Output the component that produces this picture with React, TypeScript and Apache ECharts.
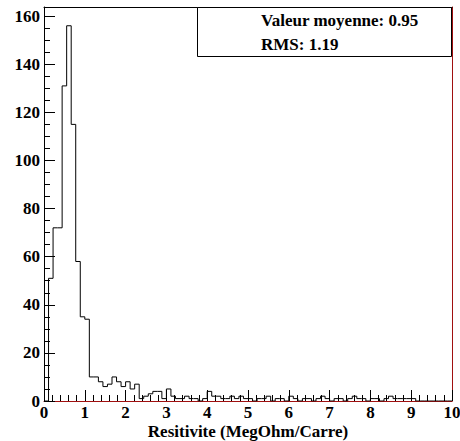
import React, { useEffect, useRef } from "react";
import * as echarts from "echarts";

const xTickLabels = ["0", "1", "2", "3", "4", "5", "6", "7", "8", "9", "10"];
const yTickLabels = ["0", "20", "40", "60", "80", "100", "120", "140", "160"];
const binCounts = [
  0, 51, 72, 72, 131, 156, 115, 58, 35, 34,
  10, 10, 8, 6, 7, 10, 8, 6, 8, 5,
  7, 1, 2, 3, 4, 4, 1, 5, 2, 1,
  1, 2, 1, 1, 0, 1, 4, 2, 2, 1,
  1, 2, 1, 2, 1, 1, 0, 1, 1, 2,
  0, 1, 1, 0, 2, 1, 0, 1, 1, 0,
  1, 2, 1, 0, 1, 1, 0, 1, 2, 1,
  1, 0, 1, 1, 0, 1, 2, 1, 1, 1,
  1, 1, 0, 0, 0, 0, 0, 0, 0, 0,
];
const meanLabel = "Valeur moyenne: 0.95";
const rmsLabel = "RMS: 1.19";
const xTitle = "Resitivite (MegOhm/Carre)";
const xMin = 0;
const xMax = 10;
const yMax = 163.8;

const FONT = "'Liberation Serif', 'Times New Roman', serif";
const EDGE_RED = "#a01010";

export default function App() {
  const ref = useRef<HTMLDivElement>(null);
  useEffect(() => {
    document.body.style.margin = "0";
    const chart = echarts.init(ref.current as HTMLDivElement, null, { renderer: "svg" });
    const bw = (xMax - xMin) / binCounts.length;
    const pts: number[][] = [[xMin, 0]];
    binCounts.forEach((c, i) => pts.push([xMin + i * bw, c]));
    pts.push([xMax, binCounts[binCounts.length - 1]]);
    pts.push([xMax, 0]);

    const labelStyle = { fontFamily: FONT, fontWeight: "bold" as const, fontSize: 17, color: "#000" };
    chart.setOption({
      animation: false,
      grid: { left: 44, right: 8, top: 7, bottom: 40, outerBoundsMode: "none", containLabel: false },
      xAxis: [
        {
          type: "value",
          min: xMin,
          max: xMax,
          interval: 1,
          position: "bottom",
          axisLine: { show: true, onZero: false, lineStyle: { color: EDGE_RED, width: 1 } },
          axisTick: { show: true, inside: true, length: 11, lineStyle: { color: "#000" } },
          minorTick: { show: true, splitNumber: 5, length: 6, lineStyle: { color: "#000" } },
          splitLine: { show: false },
          axisLabel: {
            ...labelStyle,
            margin: 3,
            formatter: (v: number) => (xTickLabels.includes(String(v)) ? String(v) : ""),
          },
        },
        {
          type: "value",
          min: xMin,
          max: xMax,
          position: "top",
          axisLine: { show: true, onZero: false, lineStyle: { color: "#000", width: 1 } },
          axisTick: { show: false },
          axisLabel: { show: false },
          splitLine: { show: false },
        },
      ],
      yAxis: [
        {
          type: "value",
          min: 0,
          max: yMax,
          interval: 20,
          position: "left",
          axisLine: { show: true, onZero: false, lineStyle: { color: "#000", width: 1 } },
          axisTick: { show: true, inside: true, length: 11, lineStyle: { color: "#000" } },
          minorTick: { show: true, splitNumber: 4, length: 6, lineStyle: { color: "#000" } },
          splitLine: { show: false },
          axisLabel: {
            ...labelStyle,
            margin: 4,
            showMaxLabel: false,
            formatter: (v: number) => (yTickLabels.includes(String(v)) ? String(v) : ""),
          },
        },
        {
          type: "value",
          min: 0,
          max: yMax,
          position: "right",
          axisLine: { show: true, onZero: false, lineStyle: { color: EDGE_RED, width: 1 } },
          axisTick: { show: false },
          axisLabel: { show: false },
          splitLine: { show: false },
        },
      ],
      series: [
        {
          type: "line",
          step: "end",
          data: pts,
          showSymbol: false,
          symbol: "none",
          lineStyle: { color: "#000", width: 1 },
          silent: true,
        },
      ],
      graphic: [
        {
          type: "rect",
          z: 100,
          shape: { x: 197.5, y: 7.5, width: 254, height: 49 },
          style: { fill: "#fff", stroke: "#000", lineWidth: 1 },
        },
        {
          type: "text",
          z: 101,
          x: 261,
          y: 20,
          style: { text: meanLabel, font: `bold 17px ${FONT}`, fill: "#000", verticalAlign: "middle" },
        },
        {
          type: "text",
          z: 101,
          x: 261,
          y: 44,
          style: { text: rmsLabel, font: `bold 17px ${FONT}`, fill: "#000", verticalAlign: "middle" },
        },
        {
          type: "text",
          z: 101,
          x: 248,
          y: 431,
          style: {
            text: xTitle,
            font: `bold 17px ${FONT}`,
            fill: "#000",
            align: "center",
            verticalAlign: "middle",
          },
        },
      ],
    });
    return () => chart.dispose();
  }, []);
  return <div ref={ref} style={{ width: 460, height: 441 }} />;
}
